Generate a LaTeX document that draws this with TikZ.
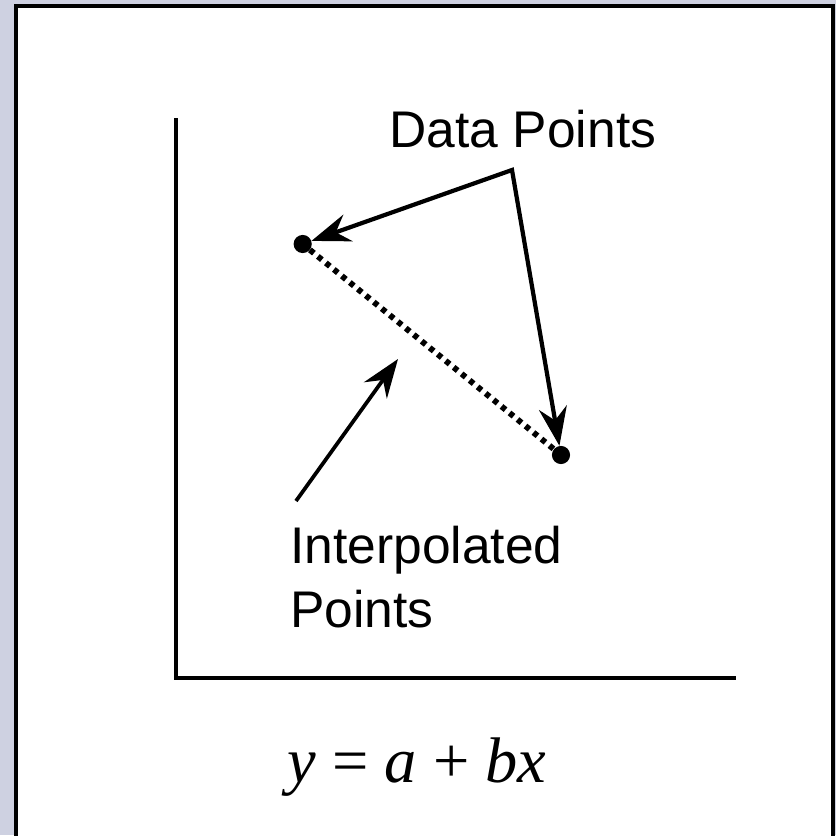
\documentclass[tikz,border=0pt]{standalone}
\usepackage{fontspec}
\setmainfont{Liberation Serif}
\setsansfont{Liberation Sans}
\usetikzlibrary{arrows.meta}
\definecolor{slidebg}{RGB}{206,209,225}

\begin{document}
\begin{tikzpicture}[x=0.03cm,y=-0.03cm,>={Stealth[length=33pt,width=24pt,inset=11pt]},
  pnt/.style={circle,fill=black,minimum size=15.5pt,inner sep=0pt},
  lbl/.style={font=\sffamily\fontsize{44}{54.5}\selectfont,inner sep=0pt},
  ax/.style={line width=2.6pt}]
\useasboundingbox (0,0) rectangle (836,835);
\clip (0,0) rectangle (836,835);
\fill[slidebg] (0,0) rectangle (836,835);
\draw[fill=white,line width=2.6pt] (16,6) rectangle (833,900);
% axes
\draw[ax] (176,118) -- (176,678) -- (736,678);
% data points
\node[pnt] (ptA) at (302.7,244) {};
\node[pnt] (ptB) at (561,455) {};
\node[lbl,anchor=base] (dpl) at (523,147) {Data Points};
\coordinate (dp) at (512,170);
\draw[<->,line width=3.6pt] (ptA) -- (dp) -- (ptB);
\draw[line width=5pt,dash pattern=on 4.4pt off 4.4pt] (ptA) -- (ptB);
% interpolated
\node[lbl,anchor=base west,align=left] (ipl) at (290,627) {Interpolated\\Points};
\coordinate (ipS) at (296,501);
\coordinate (ipT) at (398,359);
\draw[->,line width=3.2pt] (ipS) -- (ipT);
\node[font=\fontsize{55}{62}\selectfont,anchor=base,inner sep=0pt] (eq) at (417,782) {\textit{y} = \textit{a} + \textit{bx}};
\end{tikzpicture}
\end{document}
